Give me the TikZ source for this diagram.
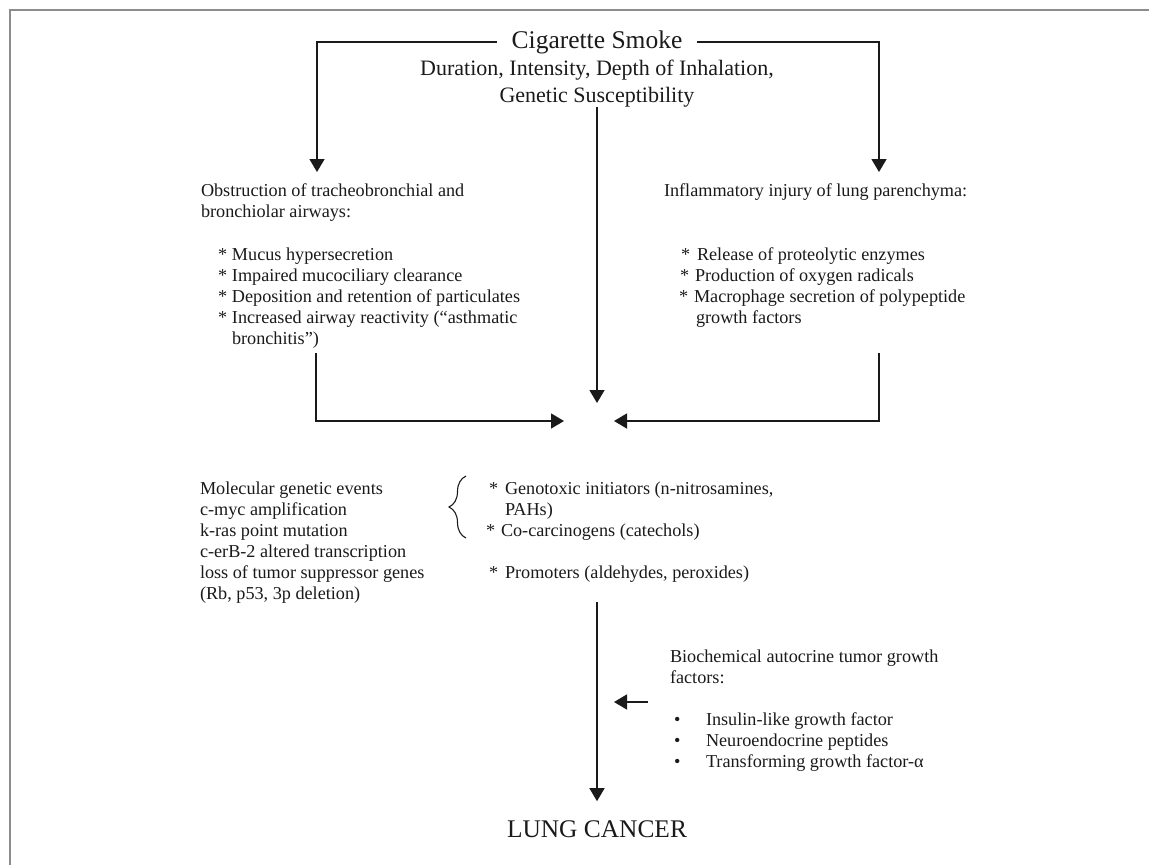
\documentclass[tikz,border=0pt]{standalone}
\usepackage{fontspec}
\setmainfont{Liberation Serif}
\usetikzlibrary{arrows.meta,decorations.pathreplacing}
\definecolor{ink}{HTML}{1A1A1A}
\definecolor{framegray}{HTML}{8C8C8C}
\newcommand\starit[1]{\makebox[#1][l]{*}}
\begin{document}
\begin{tikzpicture}[x=1pt,y=-1pt,
  every node/.style={inner sep=0pt, outer sep=0pt, text=ink},
  body/.style={font=\fontsize{18.2}{21}\selectfont, align=left, anchor=base west},
  conn/.style={draw=ink, line width=1.5pt},
  arr/.style={conn, -{Triangle[length=13pt,width=15pt]}},
  frameline/.style={draw=framegray, line width=2pt}]
\useasboundingbox (0,0) rectangle (1149,865);
\draw[frameline] (10,865) -- (10,10) -- (1149,10);

% top (multi-line nodes are placed by the baseline of their last line)
\node[font=\fontsize{25.5}{30}\selectfont, anchor=base, inner xsep=15pt] (smoke) at (597,48) {Cigarette Smoke};
\node[font=\fontsize{22}{27}\selectfont, align=center, anchor=base] (factors) at (597,102)
  {Duration, Intensity, Depth of Inhalation,\\Genetic Susceptibility};

% upper blocks
\node[body] (obst) at (201,344)
  {Obstruction of tracheobronchial and\\
   bronchiolar airways:\\[22pt]
   \hspace*{17pt}\starit{14pt}Mucus hypersecretion\\
   \hspace*{17pt}\starit{14pt}Impaired mucociliary clearance\\
   \hspace*{17pt}\starit{14pt}Deposition and retention of particulates\\
   \hspace*{17pt}\starit{14pt}Increased airway reactivity (“asthmatic\\
   \hspace*{31pt}bronchitis”)};
\node[body] (infl) at (664,323)
  {Inflammatory injury of lung parenchyma:\\[43pt]
   \hspace*{17pt}\starit{16pt}Release of proteolytic enzymes\\
   \hspace*{16pt}\starit{15pt}Production of oxygen radicals\\
   \hspace*{15pt}\starit{15pt}Macrophage secretion of polypeptide\\
   \hspace*{32pt}growth factors};

% junction coordinates
\coordinate (la) at (317,172);
\coordinate (ra) at (879,172);
\coordinate (jc) at (597,403);
\coordinate (jl) at (564,421);
\coordinate (jr) at (614,421);

\draw[arr] (smoke.west) -| (la);
\draw[arr] (smoke.east) -| (ra);
\draw[arr] (factors.south) -- (jc);
\draw[arr] ([shift={(115,5)}]obst.south west) |- (jl);
\draw[arr] ([shift={(215,26)}]infl.south west) |- (jr);

% lower blocks
\node[body] (mol) at (200,599)
  {Molecular genetic events\\
   c-myc amplification\\
   k-ras point mutation\\
   c-erB-2 altered transcription\\
   loss of tumor suppressor genes\\
   (Rb, p53, 3p deletion)};
\node[body] (carc) at (486,578)
  {\hspace*{3pt}\starit{16pt}Genotoxic initiators (n-nitrosamines,\\
   \hspace*{19pt}PAHs)\\
   \starit{15pt}Co-carcinogens (catechols)\\[21pt]
   \hspace*{3pt}\starit{16pt}Promoters (aldehydes, peroxides)};
\coordinate (brb) at (466,538);
\coordinate (brt) at (466,476);
\draw[draw=ink, line width=1.1pt, decorate, decoration={brace, amplitude=17pt}] (brb) -- (brt);

\node[body] (bio) at (670,767)
  {Biochemical autocrine tumor growth\\
   factors:\\[21pt]
   \hspace*{4pt}\makebox[32pt][l]{•}Insulin-like growth factor\\
   \hspace*{4pt}\makebox[32pt][l]{•}Neuroendocrine peptides\\
   \hspace*{4pt}\makebox[32pt][l]{•}Transforming growth factor-α};

\node[font=\fontsize{25.4}{30}\selectfont, anchor=base, inner ysep=19pt] (lung) at (597,837) {LUNG CANCER};

\coordinate (cs) at (597,602);
\coordinate (sb) at (614,702);
\draw[arr] (cs) -- (lung.north);
\draw[arr, shorten <=22pt] (bio.west |- sb) -- (sb);
\end{tikzpicture}
\end{document}
